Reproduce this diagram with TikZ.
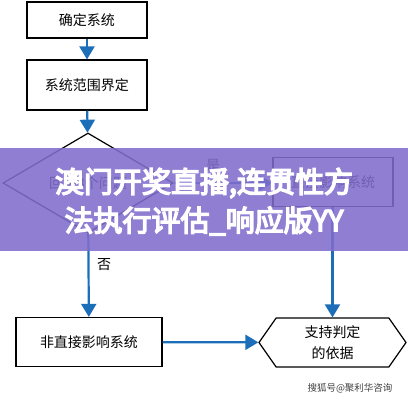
\documentclass[tikz,border=0pt]{standalone}
\usepackage{fontspec}
\setmainfont{Noto Sans CJK SC}
\newfontfamily\cjkbold{Noto Sans CJK SC}[FakeBold=5]
\usetikzlibrary{shapes.geometric,shapes.symbols,arrows.meta}
\definecolor{flowblue}{RGB}{28,110,185}
\definecolor{bandpurple}{RGB}{128,108,204}

\begin{document}
\begin{tikzpicture}[x=1pt,y=-1pt,
  box/.style={draw, line width=1.2pt, minimum width=120pt, minimum height=36pt, inner sep=2pt, font=\fontsize{14}{16}\selectfont},
  flow/.style={flowblue, line width=2.2pt, -{Triangle[width=15pt,length=13pt]}},
  tag/.style={font=\fontsize{14}{16}\selectfont}]
\useasboundingbox (0,0) rectangle (408,400);
\node[box] (sysdef) at (87,20) {确定系统};
\node[box, minimum height=50pt] (scope) at (87,85) {系统范围界定};
\node[draw, diamond, line width=1.2pt, minimum width=170pt, minimum height=100pt, inner sep=0pt, font=\fontsize{14}{16}\selectfont] (check) at (88,183) {回答3个问题};
\node[box, minimum height=49pt] (direct) at (333,182) {直接影响系统};
\node[box, minimum width=146pt, minimum height=49pt] (indirect) at (89,342) {非直接影响系统};
\node[draw, signal, signal to=west and east, signal from=nowhere, signal pointer angle=110, line width=1.2pt, minimum width=147pt, minimum height=49pt, inner sep=1pt, align=center, font=\fontsize{14}{21}\selectfont] (basis) at (332.5,342.5) {支持判定\\的依据};
\draw[flow] (sysdef) -- (scope);
\draw[flow] (scope) -- (check);
\draw[flow] (check.east) -- (direct.west |- check.east);
\draw[flow] (check) -- (indirect);
\draw[flow] (direct.south -| basis.north) -- (basis.north);
\draw[flow] (indirect) -- (basis);
\node[tag] (yes) at (213,165) {是};
\node[tag] (no) at (104,265) {否};
\fill[bandpurple, fill opacity=0.88] (0,148) rectangle (408,251);
\node[text=white, font=\cjkbold\fontsize{29}{30}\selectfont] (title1) at (204,183) {澳门开奖直播,连贯性方};
\node[text=white, font=\cjkbold\fontsize{29}{30}\selectfont] (title2) at (204,221) {法执行评估\_响应版YY};
\node[text=black!75, font=\fontsize{9.5}{11}\selectfont] (mark) at (350,388) {搜狐号@聚利华咨询};
\end{tikzpicture}
\end{document}
